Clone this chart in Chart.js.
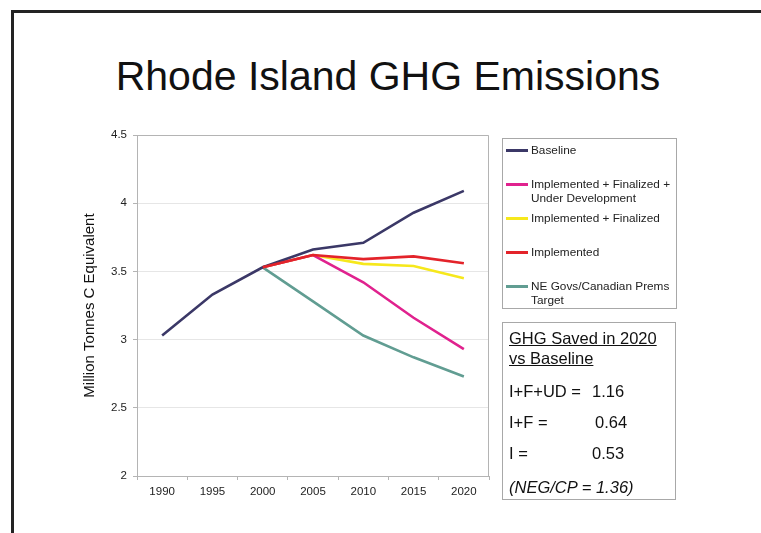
<!DOCTYPE html>
<html>
<head>
<meta charset="utf-8">
<script src="https://cdn.jsdelivr.net/npm/chart.js@4.4.0/dist/chart.umd.min.js"></script>
<style>
  html, body { margin:0; padding:0; background:#fff; }
  body { width:761px; height:533px; position:relative; overflow:hidden; font-family:"Liberation Sans", Arial, sans-serif; color:#111; }
  #frame { position:absolute; left:11px; top:10px; right:-10px; bottom:-10px; border-top:3px solid #232323; border-left:3px solid #232323; }
  #title { position:absolute; left:0; width:776px; top:52px; text-align:center; font-size:41px; line-height:48px; color:#111; }
  #cv { position:absolute; left:0; top:0; }
  #legend { position:absolute; left:502px; top:138px; width:175px; height:171px; border:1px solid #a8a8a8; box-sizing:border-box; padding-top:4px; }
  .item { position:relative; height:34px; }
  .item .sw { position:absolute; left:3px; top:6px; width:22px; height:3px; }
  .item .tx { position:absolute; left:28px; top:0; font-size:11.8px; line-height:14px; color:#222; white-space:nowrap; }
  #info { position:absolute; left:502px; top:322px; width:174px; height:178px; border:1px solid #a8a8a8; box-sizing:border-box; font-size:16.5px; color:#111; }
  #info div { position:absolute; white-space:nowrap; }
</style>
</head>
<body>
<div id="frame"></div>
<div id="title">Rhode Island GHG Emissions</div>
<canvas id="cv" width="761" height="533"></canvas>
<div id="legend"></div>
<div id="info"></div>
<script>
const categories = ["1990","1995","2000","2005","2010","2015","2020"];
const seriesNames = ["Baseline","Implemented + Finalized + Under Development","Implemented + Finalized","Implemented","NE Govs/Canadian Prems Target"];
const legendLabels = [["Baseline"],["Implemented + Finalized +","Under Development"],["Implemented + Finalized"],["Implemented"],["NE Govs/Canadian Prems","Target"]];
const baseline = [3.03, 3.33, 3.53, 3.66, 3.71, 3.93, 4.09];
const ifud     = [null, null, 3.53, 3.62, 3.42, 3.16, 2.93];
const impFin   = [null, null, 3.53, 3.62, 3.555, 3.54, 3.45];
const implemented = [null, null, 3.53, 3.62, 3.59, 3.61, 3.56];
const negTarget = [null, null, 3.53, 3.28, 3.03, 2.87, 2.73];
const seriesColors = ["#3b3867","#e0228e","#f6e81c","#e3232a","#619d92"];
const yTicks = [2, 2.5, 3, 3.5, 4, 4.5];
const infoHeading = ["GHG Saved in 2020","vs Baseline"];
const infoLabels = ["I+F+UD =","I+F =","I ="];
const infoValues = ["1.16","0.64","0.53"];
const infoNote = "(NEG/CP = 1.36)";

const seriesData = [baseline, ifud, impFin, implemented, negTarget];
const drawOrder = [1, 3, 4, 0, 5]; // higher drawn first

const plotBorder = {
  id: 'plotBorder',
  afterDraw(chart) {
    const {ctx, chartArea:a} = chart;
    ctx.save();
    ctx.strokeStyle = '#b4b4b4';
    ctx.lineWidth = 1;
    ctx.beginPath();
    ctx.moveTo(a.left, a.top + 0.5);
    ctx.lineTo(a.right - 0.5, a.top + 0.5);
    ctx.lineTo(a.right - 0.5, a.bottom);
    ctx.stroke();
    ctx.restore();
  }
};

new Chart(document.getElementById('cv'), {
  type: 'line',
  data: {
    labels: categories,
    datasets: seriesData.map((d, i) => ({
      label: seriesNames[i],
      data: d,
      borderColor: seriesColors[i],
      backgroundColor: seriesColors[i],
      borderWidth: 2.6,
      pointRadius: 0,
      tension: 0,
      order: drawOrder[i]
    }))
  },
  options: {
    responsive: false,
    animation: false,
    layout: { padding: { left: 76, top: 135, right: 272, bottom: 10 } },
    plugins: { legend: { display: false }, tooltip: { enabled: false }, title: { display: false } },
    scales: {
      x: {
        offset: true,
        grid: { display: true, drawOnChartArea: false, offset: true, tickLength: 4, color: '#b4b4b4' },
        border: { color: '#b4b4b4' },
        ticks: { padding: 5, color: '#222', font: { family: 'Liberation Sans', size: 11.5 }, maxRotation: 0 },
        afterFit(s) { s.height = 47; }
      },
      y: {
        min: 2, max: 4.5,
        afterBuildTicks(s) { s.ticks = yTicks.map(v => ({ value: v })); },
        grid: { color: '#e6e6e6', tickLength: 4, tickColor: '#b4b4b4' },
        border: { color: '#b4b4b4' },
        ticks: { padding: 6, color: '#222', font: { family: 'Liberation Sans', size: 11.5 }, callback: v => String(v) },
        title: { display: true, text: 'Million Tonnes C Equivalent', color: '#111', font: { family: 'Liberation Sans', size: 15 }, padding: { top: 5, bottom: 0 } },
        afterFit(s) { s.width = 61; }
      }
    }
  },
  plugins: [plotBorder]
});

// legend
const lg = document.getElementById('legend');
legendLabels.forEach((lines, i) => {
  const it = document.createElement('div'); it.className = 'item';
  const sw = document.createElement('div'); sw.className = 'sw'; sw.style.background = seriesColors[i];
  const tx = document.createElement('div'); tx.className = 'tx'; tx.innerHTML = lines.join('<br>');
  it.appendChild(sw); it.appendChild(tx); lg.appendChild(it);
});

// info box
const info = document.getElementById('info');
function addText(txt, x, y, extra) {
  const d = document.createElement('div');
  d.textContent = txt; d.style.left = x + 'px'; d.style.top = y + 'px';
  if (extra) Object.assign(d.style, extra);
  info.appendChild(d); return d;
}
infoHeading.forEach((t, i) => addText(t, 6, 6 + i * 20, { textDecoration: 'underline' }));
const rowY = [59, 90, 121];
const valX = [89, 92, 89];
infoLabels.forEach((t, i) => { addText(t, 6, rowY[i]); addText(infoValues[i], valX[i], rowY[i]); });
addText(infoNote, 6, 155, { fontStyle: 'italic' });
</script>
</body>
</html>
